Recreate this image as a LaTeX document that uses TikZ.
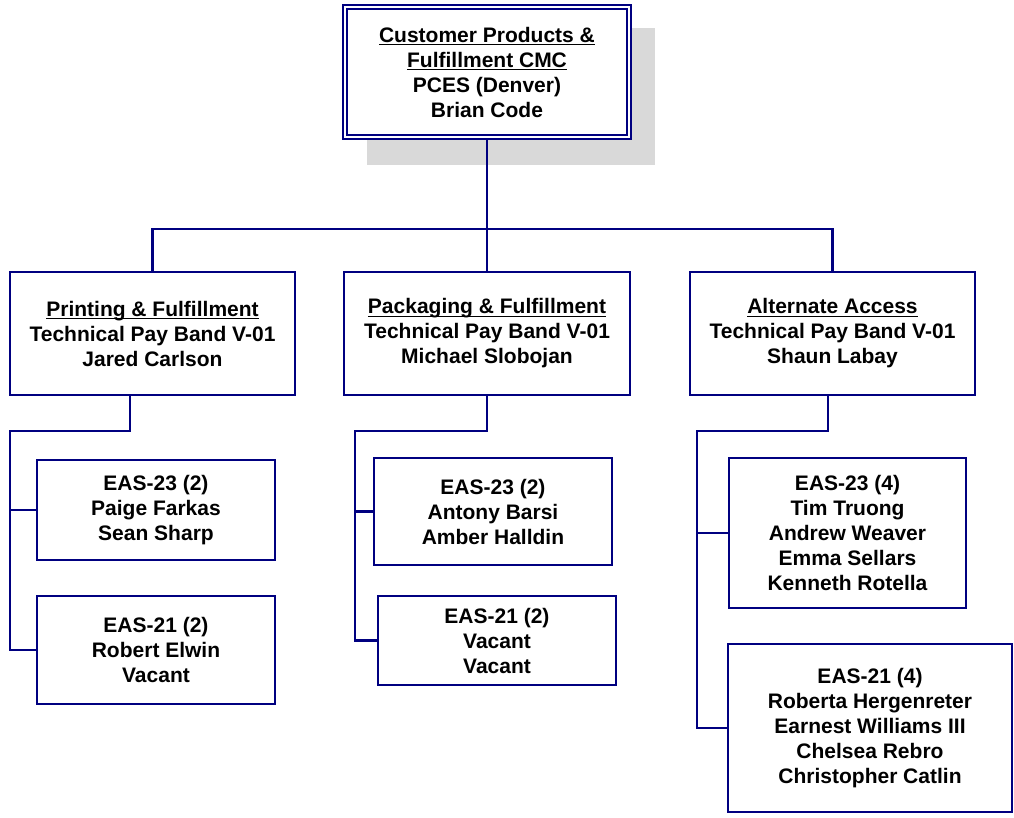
\documentclass[tikz,border=0pt]{standalone}
\usepackage{fontspec}
\setmainfont{Liberation Sans}
\usetikzlibrary{calc}
\definecolor{navy}{RGB}{0,0,128}
\definecolor{shadowgray}{RGB}{217,217,217}
\newcommand{\myul}[1]{\setbox0\hbox{#1}\rlap{\rule[-3pt]{\wd0}{1.4pt}}\box0}
\tikzset{
  orgbox/.style={draw=navy, line width=2.2pt, fill=white, align=center, inner sep=0pt,
    font=\fontsize{21}{25}\selectfont\bfseries},
  conn/.style={draw=navy, line width=2.2pt},
}
\begin{document}
\begin{tikzpicture}[x=1pt,y=-1pt]
\useasboundingbox (0,0) rectangle (1014,817);
% shadow
\fill[shadowgray] (367,28) rectangle (655,165);
% top box
\node[orgbox, minimum width=288pt, minimum height=134pt] (top) at (487,72)
  {\myul{Customer Products \&}\\\myul{Fulfillment CMC}\\PCES (Denver)\\Brian Code};
\draw[conn] ($(top.north west)+(5,5)$) rectangle ($(top.south east)+(-5,-5)$);
% level 2
\node[orgbox, minimum width=285pt, minimum height=123pt] (b1) at (152.5,333.5)
  {\myul{Printing \& Fulfillment}\\Technical Pay Band V-01\\Jared Carlson};
\node[orgbox, minimum width=286pt, minimum height=123pt] (b2) at (487,333.5)
  {\myul{Packaging \& Fulfillment}\\Technical Pay Band V-01\\Michael Slobojan};
\node[orgbox, minimum width=285pt, minimum height=123pt] (b3) at (832.5,333.5)
  {\myul{Alternate Access}\\Technical Pay Band V-01\\Shaun Labay};
% level 3
\node[orgbox, minimum width=238pt, minimum height=100pt] (s1a) at (156,510)
  {EAS-23 (2)\\Paige Farkas\\Sean Sharp};
\node[orgbox, minimum width=238pt, minimum height=108pt] (s1b) at (156,650)
  {EAS-21 (2)\\Robert Elwin\\Vacant};
\node[orgbox, minimum width=238pt, minimum height=107pt] (s2a) at (493,511.5)
  {EAS-23 (2)\\Antony Barsi\\Amber Halldin};
\node[orgbox, minimum width=238pt, minimum height=89pt] (s2b) at (497,640.5)
  {EAS-21 (2)\\Vacant\\Vacant};
\node[orgbox, minimum width=237pt, minimum height=150pt] (s3a) at (847.5,533)
  {EAS-23 (4)\\Tim Truong\\Andrew Weaver\\Emma Sellars\\Kenneth Rotella};
\node[orgbox, minimum width=284pt, minimum height=168pt] (s3b) at (870,728)
  {EAS-21 (4)\\Roberta Hergenreter\\Earnest Williams III\\Chelsea Rebro\\Christopher Catlin};
% connectors top
\draw[conn] (top.south) -- (b2.north);
\draw[conn] (b1.north) -- ++(0,-42) -| (b3.north);
% trunks
\coordinate (t1) at (10,431);
\coordinate (t2) at (355,431);
\coordinate (t3) at (697,431);
\draw[conn] ([xshift=-22.5pt]b1.south) |- (t1) |- (s1b.west);
\draw[conn] (t1 |- s1a.west) -- (s1a.west);
\draw[conn] (b2.south) |- (t2) |- (s2b.west);
\draw[conn] (t2 |- s2a.west) -- (s2a.west);
\draw[conn] ([xshift=-4.5pt]b3.south) |- (t3) |- (s3b.west);
\draw[conn] (t3 |- s3a.west) -- (s3a.west);
\end{tikzpicture}
\end{document}
